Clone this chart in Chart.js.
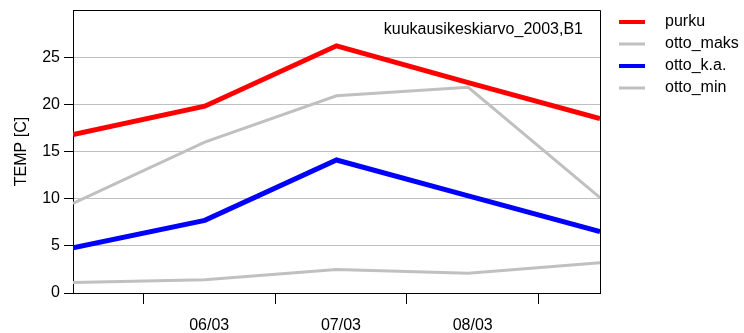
<!DOCTYPE html>
<html>
<head>
<meta charset="utf-8">
<script src="https://cdn.jsdelivr.net/npm/chart.js@4"></script>
<style>
  body { margin: 0; background: #fff; }
  canvas { display: block; }
</style>
</head>
<body>
<canvas id="tempChart" width="744" height="333"></canvas>
<script>
// Monthly means, May..Sep 2003 (only the inner months carry a label)
const monthPos = [0, 1, 2, 3, 4];
const monthLabels = ['', '06/03', '07/03', '08/03', ''];
const purku = [16.8, 19.8, 26.2, 22.3, 18.5];
const ottoMaks = [9.5, 16.0, 20.9, 21.8, 10.1];
const ottoKa = [4.8, 7.7, 14.1, 10.3, 6.5];
const ottoMin = [1.1, 1.4, 2.5, 2.1, 3.2];
const yTicks = [0, 5, 10, 15, 20, 25];

const chartTitle = 'kuukausikeskiarvo_2003,B1';
const FONT = 'Liberation Sans, Arial, sans-serif';
const LABEL_SHIFT = 0.034;   // month labels sit slightly right of the points

// frame on top/right + caption inside the plot
const framePlugin = {
    id: 'frame',
    afterDatasetsDraw(chart) {
        const a = chart.chartArea;
        const ctx = chart.ctx;
        ctx.save();
        ctx.strokeStyle = '#000';
        ctx.lineWidth = 1;
        ctx.beginPath();
        ctx.moveTo(Math.round(a.left) + 0.5, Math.round(a.top) + 0.5);
        ctx.lineTo(Math.round(a.right) + 0.5, Math.round(a.top) + 0.5);
        ctx.lineTo(Math.round(a.right) + 0.5, Math.round(a.bottom) + 0.5);
        ctx.stroke();
        ctx.fillStyle = '#000';
        ctx.font = '16px ' + FONT;
        ctx.textAlign = 'right';
        ctx.textBaseline = 'middle';
        ctx.fillText(chartTitle, a.right - 17, a.top + 20);
        ctx.restore();
    }
};

// move legend a bit off the plot edge
const legendNudge = {
    id: 'legendNudge',
    afterLayout(chart) {
        const lg = chart.legend;
        lg.left = chart.chartArea.right + 13;
        lg.right = chart.width;
        lg.top = chart.chartArea.top - 2;
        lg.bottom = chart.height;
    }
};

// legend swatch: short line with empty space after it
function swatch(color, width) {
    const c = document.createElement('canvas');
    c.width = 38;
    c.height = 8;
    const g = c.getContext('2d');
    g.fillStyle = color;
    g.fillRect(0, 4 - width / 2, 26, width);
    return c;
}

function series(label, data, color, width) {
    return {
        label: label,
        data: data,
        borderColor: color,
        backgroundColor: color,
        borderWidth: width,
        pointRadius: 0,
        tension: 0,
        fill: false
    };
}

const datasets = [
    series('purku', purku, '#ff0000', 5),
    series('otto_maks', ottoMaks, '#c0c0c0', 3),
    series('otto_k.a.', ottoKa, '#0000ff', 5),
    series('otto_min', ottoMin, '#c0c0c0', 3)
];
const swatches = datasets.map(d => swatch(d.borderColor, d.borderWidth === 5 ? 4 : 3));

function isLabelTick(v) {
    return Math.abs(v - Math.round(v) - LABEL_SHIFT) < 1e-6;
}

new Chart(document.getElementById('tempChart'), {
    type: 'line',
    data: { labels: monthPos, datasets: datasets },
    options: {
        responsive: false,
        animation: false,
        layout: { padding: { top: 4, right: 24, left: 0, bottom: 0 } },
        plugins: {
            tooltip: { enabled: false },
            legend: {
                position: 'right',
                align: 'start',
                maxWidth: 120,
                labels: {
                    usePointStyle: true,
                    pointStyleWidth: 38,
                    padding: 6,
                    color: '#000',
                    font: { family: FONT, size: 16 },
                    generateLabels(chart) {
                        const items = Chart.defaults.plugins.legend.labels.generateLabels(chart);
                        items.forEach((it, i) => { it.pointStyle = swatches[i]; });
                        return items;
                    }
                }
            }
        },
        scales: {
            x: {
                type: 'linear',
                min: 0,
                max: 4,
                afterFit(scale) { scale.height = 40; },
                afterBuildTicks(scale) {
                    const t = [];
                    for (let k = 0; k < 4; k++) {
                        if (k > 0) t.push({ value: k + LABEL_SHIFT });
                        t.push({ value: k + 0.5 + LABEL_SHIFT });
                    }
                    scale.ticks = t;
                },
                grid: {
                    drawOnChartArea: false,
                    tickLength: 11,
                    tickColor: ctx => (ctx.tick && isLabelTick(ctx.tick.value)) ? 'rgba(0,0,0,0)' : '#000'
                },
                border: { color: '#000', width: 1 },
                ticks: {
                    maxRotation: 0,
                    autoSkip: false,
                    padding: 14,
                    color: '#000',
                    font: { family: FONT, size: 16, lineHeight: 1 },
                    callback: v => isLabelTick(v) ? monthLabels[Math.round(v)] : ''
                }
            },
            y: {
                min: 0,
                max: 30,
                afterFit(scale) { scale.width = 73; },
                afterBuildTicks(scale) {
                    scale.ticks = yTicks.concat([30]).map(v => ({ value: v }));
                },
                grid: {
                    tickLength: 9,
                    color: ctx => (ctx.tick && (ctx.tick.value === 0 || ctx.tick.value === 30)) ? 'rgba(0,0,0,0)' : '#c0c0c0',
                    tickColor: ctx => (ctx.tick && ctx.tick.value === 30) ? 'rgba(0,0,0,0)' : '#000'
                },
                border: { color: '#000', width: 1 },
                title: {
                    display: true,
                    text: 'TEMP [C]',
                    color: '#000',
                    padding: { top: 12, bottom: 8 },
                    font: { family: FONT, size: 16 }
                },
                ticks: {
                    padding: 4,
                    color: '#000',
                    font: { family: FONT, size: 16, lineHeight: 0.75 },
                    callback: v => (yTicks.includes(v) ? String(v) : '')
                }
            }
        }
    },
    plugins: [framePlugin, legendNudge]
});
</script>
</body>
</html>
